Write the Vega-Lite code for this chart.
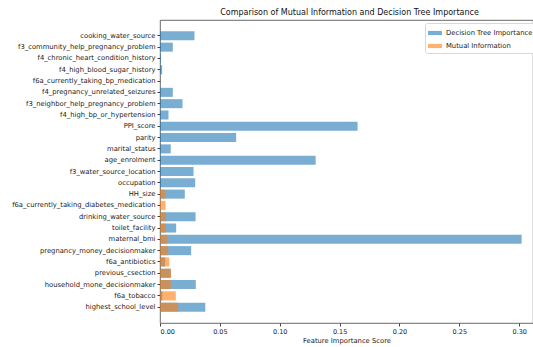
{
  "$schema": "https://vega.github.io/schema/vega-lite/v6.json",
  "width": 373,
  "height": 303,
  "autosize": {"type": "none"},
  "padding": {"left": 160, "top": 20, "right": 0, "bottom": 24},
  "background": "white",
  "title": {
    "text": "Comparison of Mutual Information and Decision Tree Importance",
    "font": "DejaVu Sans",
    "fontSize": 8,
    "fontWeight": "normal",
    "color": "#111",
    "offset": 3,
    "dx": 3
  },
  "config": {
    "view": {"stroke": "#444", "strokeWidth": 0.8},
    "axis": {"domain": false, "grid": false, "labelFont": "DejaVu Sans", "titleFont": "DejaVu Sans", "labelColor": "#222", "titleColor": "#222", "tickColor": "#444", "tickSize": 3}
  },
  "data": {
    "values": [
      {"feature": "cooking_water_source", "source": "Decision Tree Importance", "value": 0.0288},
      {"feature": "f3_community_help_pregnancy_problem", "source": "Decision Tree Importance", "value": 0.0107},
      {"feature": "f4_chronic_heart_condition_history", "source": "Decision Tree Importance", "value": 0.0006},
      {"feature": "f4_high_blood_sugar_history", "source": "Decision Tree Importance", "value": 0.0018},
      {"feature": "f6a_currently_taking_bp_medication", "source": "Decision Tree Importance", "value": 0.0},
      {"feature": "f4_pregnancy_unrelated_seizures", "source": "Decision Tree Importance", "value": 0.0107},
      {"feature": "f3_neighbor_help_pregnancy_problem", "source": "Decision Tree Importance", "value": 0.0188},
      {"feature": "f4_high_bp_or_hypertension", "source": "Decision Tree Importance", "value": 0.0071},
      {"feature": "PPI_score", "source": "Decision Tree Importance", "value": 0.165},
      {"feature": "parity", "source": "Decision Tree Importance", "value": 0.0636},
      {"feature": "marital_status", "source": "Decision Tree Importance", "value": 0.009},
      {"feature": "age_enrolment", "source": "Decision Tree Importance", "value": 0.130},
      {"feature": "f3_water_source_location", "source": "Decision Tree Importance", "value": 0.028},
      {"feature": "occupation", "source": "Decision Tree Importance", "value": 0.0294},
      {"feature": "HH_size", "source": "Decision Tree Importance", "value": 0.0207},
      {"feature": "f6a_currently_taking_diabetes_medication", "source": "Decision Tree Importance", "value": 0.0},
      {"feature": "drinking_water_source", "source": "Decision Tree Importance", "value": 0.0297},
      {"feature": "toilet_facility", "source": "Decision Tree Importance", "value": 0.0135},
      {"feature": "maternal_bmi", "source": "Decision Tree Importance", "value": 0.302},
      {"feature": "pregnancy_money_decisionmaker", "source": "Decision Tree Importance", "value": 0.026},
      {"feature": "f6a_antibiotics", "source": "Decision Tree Importance", "value": 0.0043},
      {"feature": "previous_csection", "source": "Decision Tree Importance", "value": 0.009},
      {"feature": "household_mone_decisionmaker", "source": "Decision Tree Importance", "value": 0.0299},
      {"feature": "f6a_tobacco", "source": "Decision Tree Importance", "value": 0.002},
      {"feature": "highest_school_level", "source": "Decision Tree Importance", "value": 0.0378},
      {"feature": "cooking_water_source", "source": "Mutual Information", "value": 0.0},
      {"feature": "f3_community_help_pregnancy_problem", "source": "Mutual Information", "value": 0.0},
      {"feature": "f4_chronic_heart_condition_history", "source": "Mutual Information", "value": 0.0},
      {"feature": "f4_high_blood_sugar_history", "source": "Mutual Information", "value": 0.0},
      {"feature": "f6a_currently_taking_bp_medication", "source": "Mutual Information", "value": 0.0},
      {"feature": "f4_pregnancy_unrelated_seizures", "source": "Mutual Information", "value": 0.0},
      {"feature": "f3_neighbor_help_pregnancy_problem", "source": "Mutual Information", "value": 0.0},
      {"feature": "f4_high_bp_or_hypertension", "source": "Mutual Information", "value": 0.0},
      {"feature": "PPI_score", "source": "Mutual Information", "value": 0.0},
      {"feature": "parity", "source": "Mutual Information", "value": 0.0},
      {"feature": "marital_status", "source": "Mutual Information", "value": 0.0},
      {"feature": "age_enrolment", "source": "Mutual Information", "value": 0.0},
      {"feature": "f3_water_source_location", "source": "Mutual Information", "value": 0.0},
      {"feature": "occupation", "source": "Mutual Information", "value": 0.0},
      {"feature": "HH_size", "source": "Mutual Information", "value": 0.0043},
      {"feature": "f6a_currently_taking_diabetes_medication", "source": "Mutual Information", "value": 0.0046},
      {"feature": "drinking_water_source", "source": "Mutual Information", "value": 0.0049},
      {"feature": "toilet_facility", "source": "Mutual Information", "value": 0.0049},
      {"feature": "maternal_bmi", "source": "Mutual Information", "value": 0.006},
      {"feature": "pregnancy_money_decisionmaker", "source": "Mutual Information", "value": 0.0068},
      {"feature": "f6a_antibiotics", "source": "Mutual Information", "value": 0.0077},
      {"feature": "previous_csection", "source": "Mutual Information", "value": 0.0092},
      {"feature": "household_mone_decisionmaker", "source": "Mutual Information", "value": 0.009},
      {"feature": "f6a_tobacco", "source": "Mutual Information", "value": 0.0132},
      {"feature": "highest_school_level", "source": "Mutual Information", "value": 0.0152}
    ]
  },
  "mark": {"type": "bar", "opacity": 0.6},
  "encoding": {
    "y": {
      "field": "feature",
      "type": "nominal",
      "sort": ["cooking_water_source", "f3_community_help_pregnancy_problem", "f4_chronic_heart_condition_history", "f4_high_blood_sugar_history", "f6a_currently_taking_bp_medication", "f4_pregnancy_unrelated_seizures", "f3_neighbor_help_pregnancy_problem", "f4_high_bp_or_hypertension", "PPI_score", "parity", "marital_status", "age_enrolment", "f3_water_source_location", "occupation", "HH_size", "f6a_currently_taking_diabetes_medication", "drinking_water_source", "toilet_facility", "maternal_bmi", "pregnancy_money_decisionmaker", "f6a_antibiotics", "previous_csection", "household_mone_decisionmaker", "f6a_tobacco", "highest_school_level"],
      "scale": {"paddingInner": 0.2, "paddingOuter": 1.22, "round": false},
      "axis": {"title": null, "labelFontSize": 6.8, "labelPadding": 2, "labelLimit": 200}
    },
    "x": {
      "field": "value",
      "type": "quantitative",
      "stack": null,
      "scale": {"domain": [0, 0.3115], "nice": false, "zero": true},
      "axis": {"values": [0, 0.05, 0.1, 0.15, 0.2, 0.25, 0.3], "format": ".2f", "title": "Feature Importance Score", "labelFontSize": 6.5, "titleFontSize": 6.8, "titleFontWeight": "normal", "labelPadding": 2, "titlePadding": 3}
    },
    "color": {
      "field": "source",
      "type": "nominal",
      "scale": {"domain": ["Decision Tree Importance", "Mutual Information"], "range": ["#1f77b4", "#ff7f0e"]},
      "legend": {
        "title": null,
        "orient": "none",
        "legendX": 265,
        "legendY": 3,
        "fillColor": "white",
        "strokeColor": "#d8d8d8",
        "cornerRadius": 2,
        "padding": 3,
        "labelFont": "DejaVu Sans",
        "labelFontSize": 6.8,
        "labelColor": "#222",
        "labelLimit": 200,
        "symbolType": "M-1,-0.3H1V0.3H-1Z",
        "symbolSize": 196,
        "symbolStrokeWidth": 0,
        "symbolOpacity": 0.6,
        "rowPadding": 2
      }
    }
  }
}
